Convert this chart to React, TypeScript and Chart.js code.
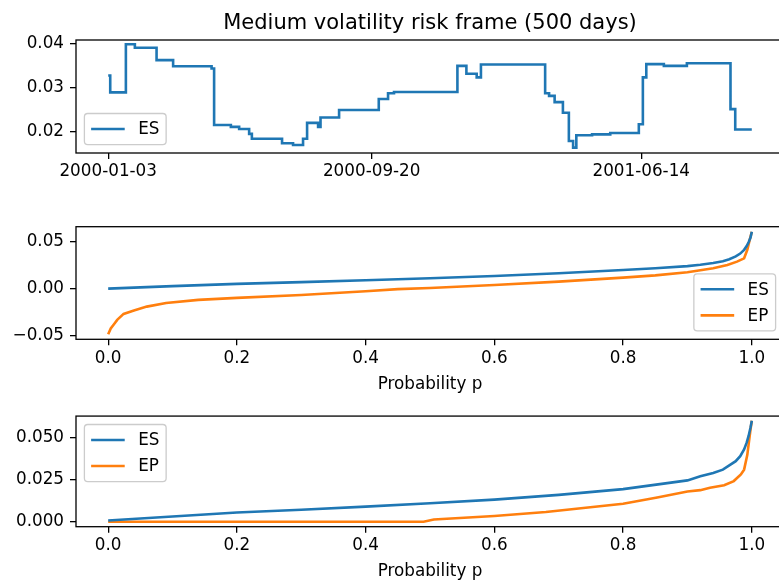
import React, { useEffect, useRef } from "react";
import { Chart, registerables } from "chart.js";

Chart.register(...registerables);

// ---------------- data ----------------
const chartTitle = "Medium volatility risk frame (500 days)";
const xAxisLabel = "Probability p";
const seriesNames = ["ES", "EP"];

// top panel: days since 2000-01-03 where the ES level changes, and the level held from there
const topDays = [0, 2, 17.5, 26.4, 47.9, 64.3, 102.4, 104.9, 121.5, 129.7, 139.6, 142.3, 172.2, 183.1, 193, 197, 207.9, 210.3, 228.7, 268, 277.2, 283.1, 345.9, 354.8, 365, 369.2, 432.8, 436.7, 442.2, 450.4, 456.3, 460.5, 463.7, 479.3, 497.3, 525.6, 529.6, 533, 550.4, 573.2, 616.4, 621.1, 637.5];
const topES = [0.0327, 0.0289, 0.0398, 0.039, 0.0362, 0.0348, 0.0343, 0.0215, 0.0211, 0.0206, 0.0195, 0.0184, 0.0174, 0.017, 0.0184, 0.022, 0.0211, 0.0232, 0.0249, 0.0274, 0.0287, 0.029, 0.0349, 0.0331, 0.0323, 0.0352, 0.0287, 0.0281, 0.0267, 0.0243, 0.0179, 0.0164, 0.0192, 0.0194, 0.0197, 0.0217, 0.0323, 0.0353, 0.0349, 0.0355, 0.0251, 0.0205, 0.0205];
const topXTicks = [0, 261, 528];
const topXLabels = ["2000-01-03", "2000-09-20", "2001-06-14"];
const topYTicks = [0.02, 0.03, 0.04];
const topYLabels = ["0.02", "0.03", "0.04"];

// middle panel
const midESp = [0, 0.1, 0.2, 0.3, 0.4, 0.5, 0.6, 0.7, 0.8, 0.85, 0.9, 0.92, 0.94, 0.955, 0.965, 0.975, 0.982, 0.988, 0.992, 0.995, 0.998, 1];
const midES = [0.0, 0.0026, 0.005, 0.0069, 0.0089, 0.011, 0.0134, 0.0162, 0.0197, 0.0216, 0.0238, 0.0252, 0.027, 0.029, 0.031, 0.034, 0.037, 0.041, 0.045, 0.049, 0.054, 0.06];
const midEPp = [0, 0.004, 0.009, 0.014, 0.024, 0.04, 0.06, 0.09, 0.14, 0.2, 0.3, 0.4, 0.45, 0.5, 0.6, 0.7, 0.8, 0.85, 0.9, 0.92, 0.94, 0.962, 0.977, 0.988, 0.993, 0.998, 1];
const midEP = [-0.0482, -0.042, -0.0376, -0.033, -0.0267, -0.0232, -0.019, -0.0151, -0.0119, -0.0098, -0.0067, -0.0028, -0.0005, 0.0007, 0.0039, 0.0074, 0.0116, 0.014, 0.0173, 0.0195, 0.0215, 0.025, 0.0285, 0.032, 0.041, 0.055, 0.06];
const midYTicks = [-0.05, 0, 0.05];
const midYLabels = ["\u22120.05", "0.00", "0.05"];

// bottom panel
const botESp = [0, 0.1, 0.2, 0.3, 0.4, 0.5, 0.6, 0.7, 0.8, 0.9, 0.92, 0.94, 0.955, 0.965, 0.975, 0.982, 0.988, 0.992, 0.995, 0.998, 1];
const botES = [0.0008, 0.0032, 0.0055, 0.0072, 0.009, 0.011, 0.0132, 0.016, 0.0194, 0.0246, 0.027, 0.029, 0.031, 0.0335, 0.036, 0.039, 0.043, 0.047, 0.051, 0.056, 0.06];
const botEPp = [0, 0.49, 0.506, 0.6, 0.68, 0.8, 0.853, 0.9, 0.92, 0.935, 0.957, 0.972, 0.983, 0.988, 0.993, 0.998, 1];
const botEP = [0, 0, 0.0014, 0.0035, 0.0058, 0.0107, 0.0145, 0.018, 0.0188, 0.0202, 0.0217, 0.0242, 0.0281, 0.031, 0.0398, 0.055, 0.06];
const botYTicks = [0, 0.025, 0.05];
const botYLabels = ["0.000", "0.025", "0.050"];

const pXTicks = [0, 0.2, 0.4, 0.6, 0.8, 1.0];
const pXLabels = ["0.0", "0.2", "0.4", "0.6", "0.8", "1.0"];

// ---------------- style ----------------
const FONT = '"DejaVu Sans", sans-serif';
const FS = 16.8;
const TITLE_FS = 21;
const BLUE = "#1f77b4";
const ORANGE = "#ff7f0e";
const LW = 2.6;
const CANVAS_W = 800;
const RIGHT_PAD = 16;
const Y_AXIS_W = 76;

const pts = (xs: number[], ys: number[]) => xs.map((x, i) => ({ x, y: ys[i] }));

function labelFor(ticks: number[], labels: string[]) {
  return (v: any) => {
    const i = ticks.findIndex((t) => Math.abs(t - Number(v)) < 1e-9);
    return i >= 0 ? labels[i] : "";
  };
}

function decorPlugin(loc: string, title?: string, xTitle?: string) {
  return {
    id: "decor",
    afterDatasetsDraw(chart: any) {
      const { ctx, chartArea: a } = chart;
      ctx.save();
      // frame
      ctx.strokeStyle = "#000";
      ctx.lineWidth = 1.3;
      ctx.strokeRect(a.left, a.top, a.right - a.left, a.bottom - a.top);
      // legend
      const fs = FS;
      ctx.font = `${fs}px ${FONT}`;
      const ds = chart.data.datasets;
      const tw = Math.max(...ds.map((d: any) => ctx.measureText(d.label).width));
      const pad = 0.4 * fs, hl = 2 * fs, gap = 0.8 * fs, rowH = 1.05 * fs, sp = 0.5 * fs, ax = 0.5 * fs;
      const w = 2 * pad + hl + gap + tw;
      const h = 2 * pad + ds.length * rowH + (ds.length - 1) * sp;
      const x = loc.endsWith("left") ? a.left + ax : a.right - ax - w;
      const y = loc.startsWith("upper") ? a.top + ax : a.bottom - ax - h;
      ctx.beginPath();
      ctx.roundRect(x, y, w, h, 0.2 * fs);
      ctx.fillStyle = "rgba(255,255,255,0.8)";
      ctx.fill();
      ctx.strokeStyle = "#cccccc";
      ctx.lineWidth = 1.3;
      ctx.stroke();
      ds.forEach((d: any, i: number) => {
        const cy = y + pad + i * (rowH + sp) + rowH / 2;
        ctx.beginPath();
        ctx.moveTo(x + pad, cy);
        ctx.lineTo(x + pad + hl, cy);
        ctx.strokeStyle = d.borderColor;
        ctx.lineWidth = LW;
        ctx.stroke();
        ctx.fillStyle = "#000";
        ctx.textBaseline = "middle";
        ctx.textAlign = "left";
        ctx.fillText(d.label, x + pad + hl + gap, cy + 1);
      });
      // texts
      const cx = (a.left + a.right) / 2;
      ctx.fillStyle = "#000";
      ctx.textAlign = "center";
      ctx.textBaseline = "alphabetic";
      if (title) {
        ctx.font = `${TITLE_FS}px ${FONT}`;
        ctx.fillText(title, cx, 29.3);
      }
      if (xTitle) {
        ctx.font = `${FS}px ${FONT}`;
        ctx.fillText(xTitle, cx, a.bottom + 49.5);
      }
      ctx.restore();
    },
  };
}

type Cfg = {
  datasets: any[];
  xMin: number; xMax: number; yMin: number; yMax: number;
  xTicks: number[]; xLabels: string[]; yTicks: number[]; yLabels: string[];
  padTop: number; xAxisH: number; loc: string; title?: string; xTitle?: string;
};

function makeChart(canvas: HTMLCanvasElement, c: Cfg) {
  const axisCommon = {
    type: "linear" as const,
    grid: { drawOnChartArea: false, drawTicks: true, tickLength: 6, color: "#000", lineWidth: 1.3 },
    border: { display: false },
  };
  return new Chart(canvas, {
    type: "line",
    data: { datasets: c.datasets },
    options: {
      responsive: false,
      animation: false,
      devicePixelRatio: 1,
      layout: { padding: { top: c.padTop, right: RIGHT_PAD, left: 0, bottom: 0 } },
      elements: { point: { radius: 0 }, line: { tension: 0 } },
      plugins: { legend: { display: false }, tooltip: { enabled: false }, title: { display: false } },
      scales: {
        x: {
          ...axisCommon,
          min: c.xMin,
          max: c.xMax,
          afterBuildTicks: (s: any) => { s.ticks = c.xTicks.map((v) => ({ value: v })); },
          afterFit: (s: any) => { s.height = c.xAxisH; },
          ticks: { callback: labelFor(c.xTicks, c.xLabels), font: { family: FONT, size: FS }, color: "#000", padding: 3, maxRotation: 0, autoSkip: false },
        },
        y: {
          ...axisCommon,
          min: c.yMin,
          max: c.yMax,
          afterBuildTicks: (s: any) => { s.ticks = c.yTicks.map((v) => ({ value: v })); },
          afterFit: (s: any) => { s.width = Y_AXIS_W; },
          ticks: { callback: labelFor(c.yTicks, c.yLabels), font: { family: FONT, size: FS }, color: "#000", padding: 6, autoSkip: false },
        },
      },
    } as any,
    plugins: [decorPlugin(c.loc, c.title, c.xTitle)],
  });
}

const line = (label: string, color: string, data: any[], stepped = false) => ({
  label,
  data,
  borderColor: color,
  backgroundColor: color,
  borderWidth: LW,
  pointRadius: 0,
  fill: false,
  stepped,
});

export default function App() {
  const r1 = useRef<HTMLCanvasElement>(null);
  const r2 = useRef<HTMLCanvasElement>(null);
  const r3 = useRef<HTMLCanvasElement>(null);

  useEffect(() => {
    const charts: Chart[] = [];
    charts.push(
      makeChart(r1.current!, {
        datasets: [line(seriesNames[0], BLUE, pts(topDays, topES), true)],
        xMin: -31.9, xMax: 669.4, yMin: 0.01518, yMax: 0.04075,
        xTicks: topXTicks, xLabels: topXLabels, yTicks: topYTicks, yLabels: topYLabels,
        padTop: 40, xAxisH: 47, loc: "lower left", title: chartTitle,
      })
    );
    charts.push(
      makeChart(r2.current!, {
        datasets: [line(seriesNames[0], BLUE, pts(midESp, midES)), line(seriesNames[1], ORANGE, pts(midEPp, midEP))],
        xMin: -0.05, xMax: 1.05, yMin: -0.0535, yMax: 0.0654,
        xTicks: pXTicks, xLabels: pXLabels, yTicks: midYTicks, yLabels: midYLabels,
        padTop: 26.7, xAxisH: 60.7, loc: "lower right", xTitle: xAxisLabel,
      })
    );
    charts.push(
      makeChart(r3.current!, {
        datasets: [line(seriesNames[0], BLUE, pts(botESp, botES)), line(seriesNames[1], ORANGE, pts(botEPp, botEP))],
        xMin: -0.05, xMax: 1.05, yMin: -0.0029, yMax: 0.0628,
        xTicks: pXTicks, xLabels: pXLabels, yTicks: botYTicks, yLabels: botYLabels,
        padTop: 14, xAxisH: 53.3, loc: "upper left", xTitle: xAxisLabel,
      })
    );
    return () => charts.forEach((ch) => ch.destroy());
  }, []);

  const cs = (top: number, h: number): React.CSSProperties => ({ position: "absolute", left: 0, top, width: CANVAS_W, height: h });

  return (
    <div style={{ position: "absolute", left: 0, top: 0, width: 779, height: 580, overflow: "hidden", background: "#fff" }}>
      <canvas ref={r1} width={CANVAS_W} height={200} style={cs(0, 200)} />
      <canvas ref={r2} width={CANVAS_W} height={200} style={cs(200, 200)} />
      <canvas ref={r3} width={CANVAS_W} height={180} style={cs(400, 180)} />
    </div>
  );
}
